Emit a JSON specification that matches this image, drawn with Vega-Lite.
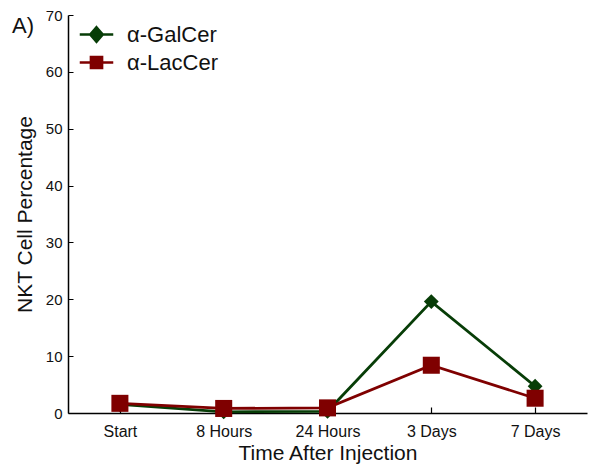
{
  "$schema": "https://vega.github.io/schema/vega-lite/v6.json",
  "width": 519,
  "height": 398,
  "autosize": {"type": "none"},
  "padding": {"left": 68, "top": 15, "right": 14, "bottom": 62},
  "background": "white",
  "config": {
    "view": {"stroke": null},
    "font": "Liberation Sans"
  },
  "title": {
    "text": "A)",
    "anchor": "start",
    "frame": "group",
    "fontSize": 22,
    "fontWeight": "normal",
    "color": "#111",
    "dx": -56,
    "dy": 47,
    "baseline": "alphabetic",
    "offset": 0
  },
  "data": {
    "values": [
      {"time": "Start", "series": "α-GalCer", "pct": 1.5},
      {"time": "8 Hours", "series": "α-GalCer", "pct": 0.2},
      {"time": "24 Hours", "series": "α-GalCer", "pct": 0.3},
      {"time": "3 Days", "series": "α-GalCer", "pct": 19.6},
      {"time": "7 Days", "series": "α-GalCer", "pct": 4.7},
      {"time": "Start", "series": "α-LacCer", "pct": 1.7},
      {"time": "8 Hours", "series": "α-LacCer", "pct": 0.8},
      {"time": "24 Hours", "series": "α-LacCer", "pct": 0.9},
      {"time": "3 Days", "series": "α-LacCer", "pct": 8.4},
      {"time": "7 Days", "series": "α-LacCer", "pct": 2.6}
    ]
  },
  "encoding": {
    "x": {
      "field": "time",
      "type": "nominal",
      "sort": ["Start", "8 Hours", "24 Hours", "3 Days", "7 Days"],
      "scale": {"paddingInner": 0, "paddingOuter": 0},
      "axis": {
        "title": "Time After Injection",
        "titleFontSize": 21,
        "titleFontWeight": "normal",
        "titleColor": "#111",
        "titlePadding": 3,
        "labelAngle": 0,
        "labelFontSize": 16,
        "labelColor": "#111",
        "labelPadding": 16,
        "bandPosition": 0,
        "tickSize": -6,
        "tickColor": "#000",
        "domainColor": "#000",
        "domainWidth": 1.5,
        "tickWidth": 1.2
      }
    },
    "y": {
      "field": "pct",
      "type": "quantitative",
      "scale": {"domain": [0, 70], "nice": false},
      "axis": {
        "title": "NKT Cell Percentage",
        "titleFontSize": 21,
        "titleFontWeight": "normal",
        "titleColor": "#111",
        "titlePadding": 10,
        "values": [0, 10, 20, 30, 40, 50, 60, 70],
        "labelFontSize": 15,
        "labelColor": "#111",
        "labelPadding": 11,
        "tickSize": -5,
        "tickColor": "#000",
        "domainColor": "#000",
        "domainWidth": 1.5,
        "grid": false
      }
    },
    "color": {
      "field": "series",
      "type": "nominal",
      "scale": {"domain": ["α-GalCer", "α-LacCer"], "range": ["#073d07", "#7f0000"]},
      "legend": {
        "title": null,
        "orient": "none",
        "legendX": 13,
        "legendY": 4,
        "labelFontSize": 22,
        "labelColor": "#111",
        "symbolSize": 780,
        "symbolStrokeWidth": 2,
        "symbolType": "M-1.2,0H1.2M0,-0.52L0.45,0L0,0.52L-0.45,0Z",
        "rowPadding": -5,
        "labelOffset": 15,
        "encode": {
          "symbols": {
            "update": {
              "shape": {"signal": "datum.value === 'α-GalCer' ? 'M-1.2,0H1.2M0,-0.52L0.45,0L0,0.52L-0.45,0Z' : 'M-1.2,0H1.2M-0.4,-0.4H0.4V0.4H-0.4Z'"},
              "fill": {"signal": "datum.value === 'α-GalCer' ? '#073d07' : '#7f0000'"},
              "stroke": {"signal": "datum.value === 'α-GalCer' ? '#073d07' : '#7f0000'"},
              "strokeWidth": {"value": 2.5},
              "size": {"value": 780},
              "opacity": {"value": 1}
            }
          }
        }
      }
    }
  },
  "layer": [
    {
      "mark": {"type": "line", "strokeWidth": 2.8},
      "encoding": {"detail": {"field": "series"}}
    },
    {
      "transform": [{"filter": "datum.series === 'α-GalCer'"}],
      "mark": {"type": "point", "filled": true, "opacity": 1, "shape": "diamond", "size": 220}
    },
    {
      "transform": [{"filter": "datum.series === 'α-LacCer'"}],
      "mark": {"type": "point", "filled": true, "opacity": 1, "shape": "square", "size": 290}
    }
  ]
}
